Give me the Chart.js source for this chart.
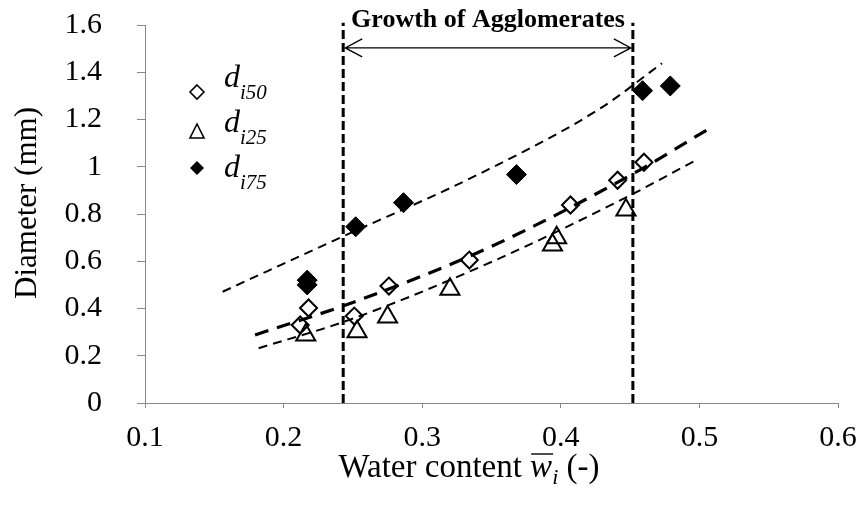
<!DOCTYPE html>
<html>
<head>
<meta charset="utf-8">
<script src="https://cdn.jsdelivr.net/npm/chart.js@4/dist/chart.umd.min.js"></script>
<style>
html,body{margin:0;padding:0;background:#fff;}
#wrap{position:relative;width:861px;height:506px;}
canvas{position:absolute;left:0;top:0;}
</style>
</head>
<body>
<div id="wrap"><canvas id="c" width="861" height="506"></canvas></div>
<script>
// ---- tick labels ----
const xTickLabels = ['0.1','0.2','0.3','0.4','0.5','0.6'];
const yTickLabels = ['0','0.2','0.4','0.6','0.8','1','1.2','1.4','1.6'];

// ---- measured points ----
const d50X = [0.212, 0.218, 0.251, 0.276, 0.334, 0.407, 0.441, 0.460];
const d50Y = [0.330, 0.402, 0.368, 0.495, 0.605, 0.838, 0.943, 1.019];

const d25X = [0.216, 0.253, 0.275, 0.320, 0.394, 0.397, 0.447];
const d25Y = [0.288, 0.302, 0.364, 0.482, 0.669, 0.700, 0.817];

const d75X = [0.217, 0.217, 0.252, 0.2865, 0.368, 0.459, 0.479];
const d75Y = [0.520, 0.500, 0.746, 0.848, 0.967, 1.322, 1.342];

// ---- trend lines ----
const t75X = [0.156, 0.241, 0.342, 0.4285, 0.473];
const t75Y = [0.471, 0.700, 0.972, 1.247, 1.438];
const t50X = [0.1794, 0.252, 0.350, 0.4526, 0.5055];
const t50Y = [0.288, 0.430, 0.663, 0.972, 1.156];
const t25X = [0.182, 0.247, 0.353, 0.448, 0.497];
const t25Y = [0.232, 0.351, 0.605, 0.873, 1.026];

// ---- region of agglomerate growth ----
const growthStart = 0.243;
const growthEnd = 0.452;
const regionLineY = [0, 1.61];
const arrowY = 1.503;
const annotationText = 'Growth of Agglomerates';

// ---- labels ----
const yTitle = 'Diameter (mm)';
const legendSeries = [
  {sub: 'i50', style: 'openDiamond'},
  {sub: 'i25', style: 'openTriangle'},
  {sub: 'i75', style: 'filledDiamond'}
];

const pts = (xs, ys) => xs.map((x, i) => ({x, y: ys[i]}));
const SERIF = '"Liberation Serif","Times New Roman",serif';
const AREA = {left: 145, right: 838, top: 25, bottom: 403};

const trendBase = {type: 'line', showLine: true, pointRadius: 0, borderColor: '#000',
  fill: false, cubicInterpolationMode: 'monotone', clip: false};

const pinArea = {
  id: 'pinArea',
  afterLayout(chart) {
    const ca = chart.chartArea;
    Object.assign(ca, AREA, {width: AREA.right - AREA.left, height: AREA.bottom - AREA.top});
    const x = chart.scales.x, y = chart.scales.y;
    Object.assign(x, {left: AREA.left, right: AREA.right, width: AREA.right - AREA.left,
      top: AREA.bottom, bottom: chart.height, height: chart.height - AREA.bottom});
    Object.assign(y, {left: 0, right: AREA.left, width: AREA.left,
      top: AREA.top, bottom: AREA.bottom, height: AREA.bottom - AREA.top});
    x.configure(); y.configure();
    x._labelItems = null; y._labelItems = null;
    x._gridLineItems = null; y._gridLineItems = null;
  }
};

const overlay = {
  id: 'overlay',
  afterDatasetsDraw(chart) {
    const ctx = chart.ctx;
    const xs = chart.scales.x, ys = chart.scales.y;
    const x1 = xs.getPixelForValue(growthStart), x2 = xs.getPixelForValue(growthEnd);
    const ay = ys.getPixelForValue(arrowY);
    ctx.save();
    // arrow
    ctx.strokeStyle = '#000'; ctx.lineWidth = 1.3; ctx.setLineDash([]);
    ctx.beginPath();
    ctx.moveTo(x1 + 2, ay); ctx.lineTo(x2 - 2, ay);
    ctx.moveTo(x1 + 19, ay - 9); ctx.lineTo(x1 + 2, ay); ctx.lineTo(x1 + 19, ay + 9);
    ctx.moveTo(x2 - 19, ay - 9); ctx.lineTo(x2 - 2, ay); ctx.lineTo(x2 - 19, ay + 9);
    ctx.stroke();
    // annotation text
    ctx.fillStyle = '#000';
    ctx.font = 'bold 26px ' + SERIF;
    ctx.textAlign = 'center'; ctx.textBaseline = 'alphabetic';
    ctx.fillText(annotationText, (x1 + x2) / 2, 27);

    // legend
    const mx = 197, markerY = [92, 132, 168], baseY = [87, 132, 177];
    legendSeries.forEach((s, i) => {
      const my = markerY[i];
      ctx.lineWidth = 1.6; ctx.strokeStyle = '#000';
      ctx.beginPath();
      if (s.style === 'openTriangle') {
        ctx.moveTo(mx, my - 8); ctx.lineTo(mx + 7, my + 6); ctx.lineTo(mx - 7, my + 6); ctx.closePath();
        ctx.stroke();
      } else {
        const r = 7;
        ctx.moveTo(mx, my - r); ctx.lineTo(mx + r, my); ctx.lineTo(mx, my + r); ctx.lineTo(mx - r, my); ctx.closePath();
        if (s.style === 'filledDiamond') { ctx.fill(); } else { ctx.stroke(); }
      }
      ctx.textAlign = 'left';
      ctx.font = 'italic 32px ' + SERIF;
      ctx.fillText('d', 224, baseY[i]);
      ctx.font = 'italic 21px ' + SERIF;
      ctx.fillText(s.sub, 240, baseY[i] + 12);
    });

    // y axis title
    ctx.save();
    ctx.translate(28, 203);
    ctx.rotate(-Math.PI / 2);
    ctx.font = '31px ' + SERIF;
    ctx.textAlign = 'center'; ctx.textBaseline = 'middle';
    ctx.fillText(yTitle, 0, 0);
    ctx.restore();

    // x axis title: Water content w̄_i (-)
    const cx = 469, by = 477;
    const parts = [
      {t: 'Water content ', f: '33px ' + SERIF, dy: 0},
      {t: 'w', f: 'italic 33px ' + SERIF, dy: 0, over: true},
      {t: 'i', f: 'italic 22px ' + SERIF, dy: 7},
      {t: ' (-)', f: '33px ' + SERIF, dy: 0}
    ];
    let total = 0;
    parts.forEach(p => { ctx.font = p.f; p.w = ctx.measureText(p.t).width; total += p.w; });
    let px = cx - total / 2;
    ctx.textAlign = 'left'; ctx.textBaseline = 'alphabetic';
    parts.forEach(p => {
      ctx.font = p.f;
      ctx.fillText(p.t, px, by + p.dy);
      if (p.over) {
        ctx.lineWidth = 1.4; ctx.beginPath();
        ctx.moveTo(px + 1, by - 23); ctx.lineTo(px + p.w + 1, by - 23); ctx.stroke();
      }
      px += p.w;
    });
    ctx.restore();
  }
};

new Chart(document.getElementById('c'), {
  type: 'scatter',
  data: {
    datasets: [
      Object.assign({}, trendBase, {label: 'trend d75', data: pts(t75X, t75Y), borderWidth: 2, borderDash: [9, 6]}),
      Object.assign({}, trendBase, {label: 'trend d50', data: pts(t50X, t50Y), borderWidth: 3.2, borderDash: [14, 9]}),
      Object.assign({}, trendBase, {label: 'trend d25', data: pts(t25X, t25Y), borderWidth: 2, borderDash: [9, 6]}),
      {type: 'line', label: 'start', showLine: true, pointRadius: 0, borderColor: '#000', borderWidth: 3,
        borderDash: [9, 4], clip: false, data: pts([growthStart, growthStart], regionLineY)},
      {type: 'line', label: 'end', showLine: true, pointRadius: 0, borderColor: '#000', borderWidth: 3,
        borderDash: [9, 4], clip: false, data: pts([growthEnd, growthEnd], regionLineY)},
      {label: 'd_i50', data: pts(d50X, d50Y), pointStyle: 'rectRot', pointRadius: 8.5,
        pointBorderWidth: 2, pointBorderColor: '#000', pointBackgroundColor: 'rgba(255,255,255,0)'},
      {label: 'd_i25', data: pts(d25X, d25Y), pointStyle: 'triangle', pointRadius: 11,
        pointBorderWidth: 2, pointBorderColor: '#000', pointBackgroundColor: 'rgba(255,255,255,0)'},
      {label: 'd_i75', data: pts(d75X, d75Y), pointStyle: 'rectRot', pointRadius: 10,
        pointBorderWidth: 1, pointBorderColor: '#000', pointBackgroundColor: '#000'}
    ]
  },
  options: {
    responsive: false,
    animation: false,
    layout: {padding: {top: 3, right: 20, left: 0, bottom: 0}},
    plugins: {legend: {display: false}, tooltip: {enabled: false}},
    scales: {
      x: {
        type: 'linear', min: 0.1, max: 0.6,
        afterBuildTicks: s => { s.ticks = xTickLabels.map(v => ({value: +v})); },
        afterFit: s => { s.height = 103; },
        ticks: {
          callback: v => xTickLabels.find(l => Math.abs(+l - v) < 1e-6) || '',
          color: '#000', font: {family: SERIF, size: 30}, padding: 12, maxRotation: 0
        },
        grid: {display: true, drawOnChartArea: false, drawTicks: true, tickLength: 5, color: '#888'},
        border: {display: true, color: '#888', width: 1}
      },
      y: {
        type: 'linear', min: 0, max: 1.6,
        afterBuildTicks: s => { s.ticks = yTickLabels.map(v => ({value: +v})); },
        afterFit: s => { s.width = 145; },
        ticks: {
          callback: v => yTickLabels.find(l => Math.abs(+l - v) < 1e-6) || '',
          color: '#000', font: {family: SERIF, size: 30}, padding: 35
        },
        grid: {display: true, drawOnChartArea: false, drawTicks: true, tickLength: 8, color: '#888'},
        border: {display: true, color: '#888', width: 1}
      }
    }
  },
  plugins: [pinArea, overlay]
});
</script>
</body>
</html>
